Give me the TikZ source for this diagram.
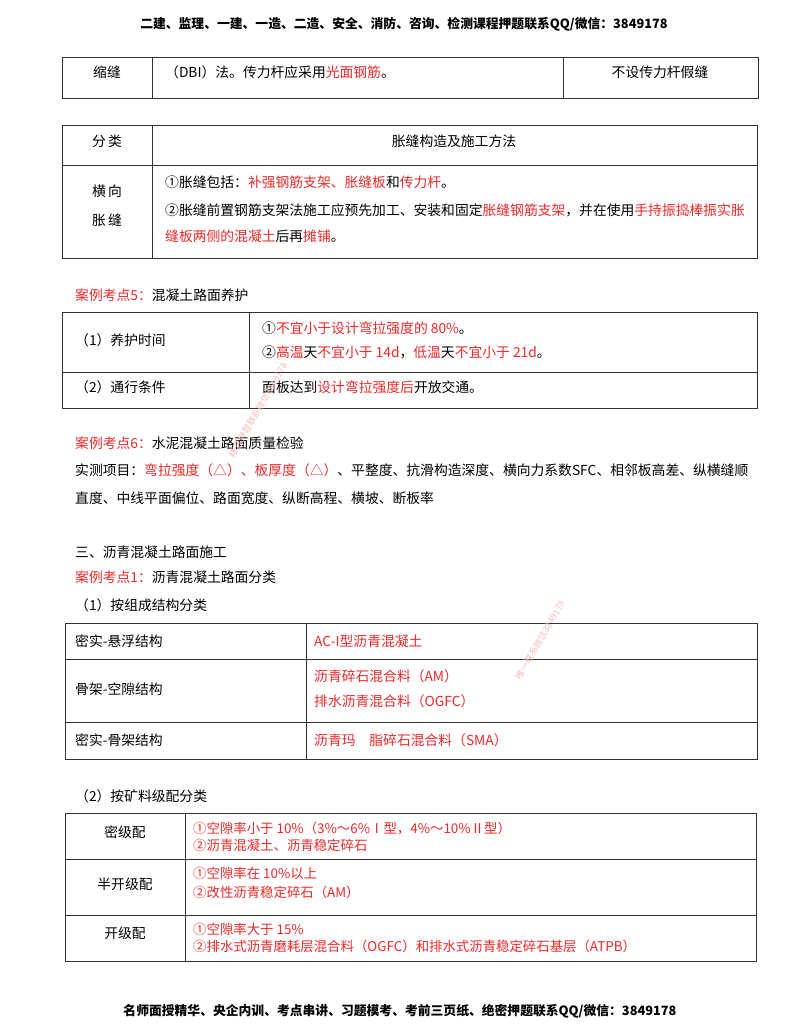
\documentclass[tikz,border=0pt]{standalone}
\usepackage{fontspec}
\setmainfont{Noto Sans CJK SC}
\definecolor{rd}{RGB}{240,40,40}
\definecolor{wm}{RGB}{240,190,190}
\newcommand{\R}[1]{\textcolor{rd}{#1}}
\begin{document}
\begin{tikzpicture}[x=1pt,y=-1pt,
  t/.style={anchor=west,inner sep=0pt,font=\fontsize{13.8}{16}\selectfont},
  c/.style={anchor=center,inner sep=0pt,font=\fontsize{13.8}{16}\selectfont},
  s/.style={anchor=west,inner sep=0pt,font=\fontsize{13.4}{15}\selectfont},
  g/.style={line width=0.9pt,draw=black!80}]
\useasboundingbox (0,0) rectangle (800,1035);
\node[c,font=\bfseries\fontsize{12.8}{15}\selectfont] (hd) at (404,24) {二建、监理、一建、一造、二造、安全、消防、咨询、检测课程押题联系QQ/微信：3849178};
% table 1
\draw[g] (62,57) rectangle (758,98) (152,57)--(152,98) (563,57)--(563,98);
\node[c] (a1) at (107,72) {缩缝};
\node[t] (a2) at (165,72) {（DBI）法。传力杆应采用\R{光面钢筋}。};
\node[c] (a3) at (660,72) {不设传力杆假缝};
% table 2
\draw[g] (62,125) rectangle (757,258) (152,125)--(152,258) (62,165)--(757,165);
\node[c] (b1) at (107,141) {分\,类};
\node[c] (b2) at (454,141) {胀缝构造及施工方法};
\node[c] (b3) at (107,191) {横\,向};
\node[c] (b4) at (107,220) {胀\,缝};
\node[t] (b5) at (165,182) {①胀缝包括：\R{补强钢筋支架、胀缝板}和\R{传力杆}。};
\node[t] (b6) at (165,210) {②胀缝前置钢筋支架法施工应预先加工、安装和固定\R{胀缝钢筋支架}，并在使用\R{手持振捣棒振实胀}};
\node[t] (b7) at (165,236) {\R{缝板两侧的混凝土}后再\R{摊铺}。};
% section 5
\node[t] (c0) at (75,295) {\R{案例考点5：}混凝土路面养护};
\draw[g] (62,312) rectangle (757,408) (249,312)--(249,408) (62,372)--(757,372);
\node[t] (c1) at (75,340) {（1）养护时间};
\node[t] (c2) at (262,328) {①\R{不宜小于设计弯拉强度的 80\%}。};
\node[t] (c3) at (262,352) {②\R{高温}天\R{不宜小于 14d}，\R{低温}天\R{不宜小于 21d}。};
\node[t] (c4) at (75,387) {（2）通行条件};
\node[t] (c5) at (262,387) {面板达到\R{设计弯拉强度后}开放交通。};
% section 6
\node[t] (d1) at (75,443) {\R{案例考点6：}水泥混凝土路面质量检验};
\node[t] (d2) at (75,470) {实测项目：\R{弯拉强度（△）、板厚度（△）}、平整度、抗滑构造深度、横向力系数SFC、相邻板高差、纵横缝顺};
\node[t] (d3) at (75,498) {直度、中线平面偏位、路面宽度、纵断高程、横坡、断板率};
% section three
\node[t] (e1) at (75,552) {三、沥青混凝土路面施工};
\node[t] (e2) at (75,577) {\R{案例考点1：}沥青混凝土路面分类};
\node[t] (e3) at (75,605) {（1）按组成结构分类};
\draw[g] (65,623) rectangle (757,759) (306,623)--(306,759) (65,659)--(757,659) (65,722)--(757,722);
\node[t] (f1) at (75,641) {密实-悬浮结构};
\node[t] (f2) at (314,641) {\R{AC-I型沥青混凝土}};
\node[t] (f3) at (75,689) {骨架-空隙结构};
\node[t] (f4) at (314,676) {\R{沥青碎石混合料（AM）}};
\node[t] (f5) at (314,701) {\R{排水沥青混合料（OGFC）}};
\node[t] (f6) at (75,740) {密实-骨架结构};
\node[t] (f7) at (314,740) {\R{沥青玛\quad 脂碎石混合料（SMA）}};
% gradation
\node[t] (h0) at (75,796) {（2）按矿料级配分类};
\draw[g] (65,813) rectangle (756,961) (185,813)--(185,961) (65,859)--(756,859) (65,915)--(756,915);
\node[c] (h1) at (125,832) {密级配};
\node[c] (h2) at (125,884) {半开级配};
\node[c] (h3) at (125,933) {开级配};
\node[s] (h4) at (193,828) {\R{①空隙率小于 10\%（3\%～6\%Ⅰ型，4\%～10\%Ⅱ型）}};
\node[s] (h5) at (193,845) {\R{②沥青混凝土、沥青稳定碎石}};
\node[s] (h6) at (193,873) {\R{①空隙率在 10\%以上}};
\node[s] (h7) at (193,892) {\R{②改性沥青稳定碎石（AM）}};
\node[s] (h8) at (193,929) {\R{①空隙率大于 15\%}};
\node[s] (h9) at (193,946) {\R{②排水式沥青磨耗层混合料（OGFC）和排水式沥青稳定碎石基层（ATPB）}};
% watermarks
\node[c,wm,rotate=60,font=\fontsize{9}{10}\selectfont] (w1) at (258,410) {精选押题联系微信3849178};
\node[c,wm,rotate=60,font=\fontsize{9}{10}\selectfont] (w2) at (540,640) {唯一联系微信3849178};
\node[c,font=\bfseries\fontsize{12.8}{15}\selectfont] (ft) at (400,1011) {名师面授精华、央企内训、考点串讲、习题模考、考前三页纸、绝密押题联系QQ/微信：3849178};
\end{tikzpicture}
\end{document}
